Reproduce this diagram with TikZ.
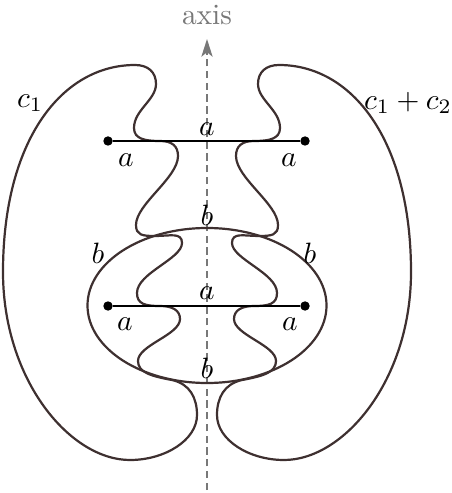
\documentclass[tikz,border=0pt]{standalone}
\usetikzlibrary{arrows.meta}
\definecolor{curvecol}{RGB}{62,48,48}
\definecolor{axiscol}{RGB}{120,120,120}
\tikzset{
  curve/.style={draw=curvecol, line width=0.75pt},
  seg/.style={draw=black, line width=0.65pt},
  dot/.style={circle, fill=black, inner sep=0pt, minimum size=3.2pt},
  lbl/.style={inner sep=0pt},
  axisline/.style={draw=axiscol, line width=0.75pt, dash pattern=on 2.5pt off 1.5pt,
    -{Stealth[length=6pt,width=3.8pt,inset=1.5pt]}},
}
\newcommand{\leftcurve}{%
  (135,65) .. controls (148,65) and (156,72) .. (156,84)
  .. controls (156,100) and (134,110) .. (134,128)
  .. controls (134,139) and (145,141) .. (160,141)
  .. controls (172,141) and (178,146) .. (178,156)
  .. controls (178,178) and (136,204) .. (136,225)
  .. controls (136,235) and (142,236) .. (155,236)
  .. controls (170,236) and (182,232) .. (182,243)
  .. controls (182,259) and (137,273) .. (137,293)
  .. controls (137,304) and (145,306) .. (160,306)
  .. controls (172,306) and (180,310) .. (180,319)
  .. controls (180,335) and (138,345) .. (138,361)
  .. controls (138,372) and (150,376) .. (172,380)
  .. controls (190,384) and (197,398) .. (197,415)
  .. controls (197,440) and (165,460) .. (130,460)
  .. controls (70,460) and (3,380) .. (3,272)
  .. controls (3,140) and (62,65) .. (135,65) -- cycle}
\begin{document}
\begin{tikzpicture}[x=0.34pt, y=-0.34pt]
\useasboundingbox (0,0) rectangle (451,493);
% axis
\coordinate (axisbot) at (207,490);
\coordinate (axistop) at (207,39);
\draw[axisline] (axisbot) -- (axistop);
\node[lbl, text=axiscol] (axislbl) at (207,15) {axis};
% ellipse
\draw[curve] (207,305.5) ellipse [x radius=119.5, y radius=77.5];
% curves
\draw[curve] \leftcurve;
\begin{scope}[shift={(414,0)}, xscale=-1]
\draw[curve] \leftcurve;
\end{scope}
% segments
\node[dot] (p1) at (108,141) {};
\node[dot] (p2) at (305,141) {};
\node[dot] (p3) at (108,306) {};
\node[dot] (p4) at (305,306) {};
\draw[seg] (p1) -- (p2);
\draw[seg] (p3) -- (p4);
% labels
\node[lbl] (la1) at (207,129) {$a$};
\node[lbl] (la2) at (126,160) {$a$};
\node[lbl] (la3) at (289,160) {$a$};
\node[lbl] (lb1) at (207,215) {$b$};
\node[lbl] (lb2) at (98,253) {$b$};
\node[lbl] (lb3) at (310,253) {$b$};
\node[lbl] (la4) at (207,293) {$a$};
\node[lbl] (la5) at (125,324) {$a$};
\node[lbl] (la6) at (290,324) {$a$};
\node[lbl] (lb4) at (207,368) {$b$};
\node[lbl] (lc1) at (30,103) {$c_1$};
\node[lbl] (lc2) at (408,103) {$c_1+c_2$};
\end{tikzpicture}
\end{document}
